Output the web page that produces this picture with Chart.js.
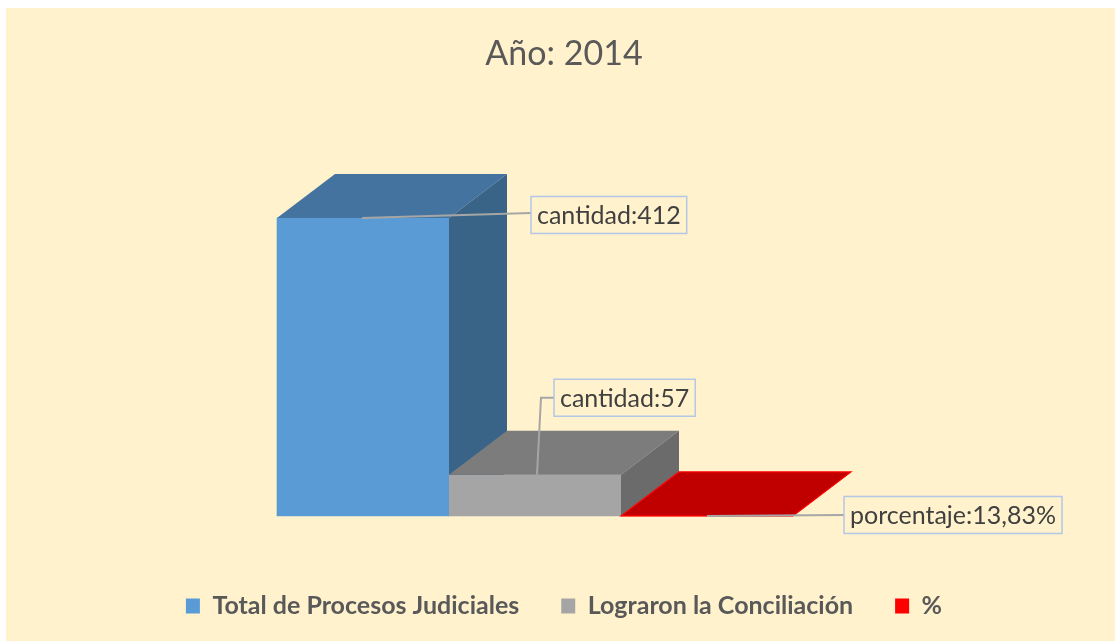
<!DOCTYPE html>
<html>
<head>
<meta charset="utf-8">
<script src="https://cdn.jsdelivr.net/npm/chart.js@4.4.1/dist/chart.umd.min.js"></script>
<style>
  html, body { margin: 0; padding: 0; background: #ffffff; }
  #wrap { width: 1115px; height: 641px; position: relative; }
  canvas { display: block; }
</style>
</head>
<body>
<div id="wrap"><canvas id="c" width="1115" height="641"></canvas></div>
<script>
// ---- data ----
const categories = ['2014'];
const seriesNames = ['Total de Procesos Judiciales', 'Lograron la Conciliación', '%'];
const totalProcesos = [412];
const lograronConciliacion = [57];
const porcentaje = [0.1383];
const labelPrefixes = ['cantidad:', 'cantidad:', 'porcentaje:'];
const titleText = 'Año: 2014';

// ---- styles ----
const seriesColors = ['#5B9BD5', '#A5A5A5', '#FF0000'];
const faceColors = [
  { front: '#5B9BD5', top: '#44739F', side: '#3A6487' },
  { front: '#A5A5A5', top: '#7C7C7C', side: '#6B6B6B' },
  { front: '#FF0000', top: '#C00000', side: '#A00000', edge: '#FF0000' }
];
const depth = { dx: 58, dy: -44 };

function fmtValue(i, v) {
  if (i === 2) return labelPrefixes[i] + (v * 100).toFixed(2).replace('.', ',') + '%';
  return labelPrefixes[i] + v;
}

function poly(ctx, pts, fill, stroke) {
  ctx.beginPath();
  ctx.moveTo(pts[0][0], pts[0][1]);
  for (let k = 1; k < pts.length; k++) ctx.lineTo(pts[k][0], pts[k][1]);
  ctx.closePath();
  ctx.fillStyle = fill;
  ctx.fill();
  if (stroke) { ctx.strokeStyle = stroke; ctx.lineWidth = 1.2; ctx.stroke(); }
}

const bgPlugin = {
  id: 'bg',
  beforeDraw(chart) {
    const ctx = chart.ctx;
    ctx.save();
    ctx.fillStyle = '#ffffff';
    ctx.fillRect(0, 0, chart.width, chart.height);
    ctx.fillStyle = '#FFF2CC';
    ctx.fillRect(6, 8, chart.width - 6, chart.height - 8);
    ctx.restore();
  }
};

function barGeom(chart, i) {
  const bar = chart.getDatasetMeta(i).data[0];
  const p = bar.getProps(['x', 'y', 'base', 'width'], true);
  return {
    l: p.x - p.width / 2, r: p.x + p.width / 2,
    t: Math.min(p.y, p.base), b: Math.max(p.y, p.base)
  };
}

const box3dPlugin = {
  id: 'box3d',
  afterDatasetsDraw(chart) {
    const ctx = chart.ctx;
    ctx.save();
    chart.data.datasets.forEach((ds, i) => {
      const g = barGeom(chart, i);
      const c = faceColors[i];
      const { dx, dy } = depth;
      ctx.fillStyle = c.front;
      ctx.fillRect(g.l, g.t, g.r - g.l, g.b - g.t);
      poly(ctx, [[g.l, g.t], [g.l + dx, g.t + dy], [g.r + dx, g.t + dy], [g.r, g.t]], c.top, c.edge);
      if (g.b - g.t > 1) {
        poly(ctx, [[g.r, g.t], [g.r + dx, g.t + dy], [g.r + dx, g.b + dy], [g.r, g.b]], c.side);
      }
    });
    ctx.restore();
  }
};

const labelPlugin = {
  id: 'labels3d',
  afterDraw(chart) {
    const ctx = chart.ctx;
    ctx.save();
    ctx.font = '25px Lato';
    ctx.textBaseline = 'middle';
    ctx.textAlign = 'left';
    const { dx } = depth;
    const boxH = 37, padX = 6;
    chart.data.datasets.forEach((ds, i) => {
      const g = barGeom(chart, i);
      const txt = fmtValue(i, ds.data[0]);
      const w = ctx.measureText(txt).width + padX * 2;
      let bx, cy, path;
      if (i === 0) {
        bx = g.r + dx + 24; cy = g.t - 3;
        path = [[g.l + 85, g.t], [bx, cy - 2]];
      } else if (i === 1) {
        bx = g.l + 105; cy = g.t - 77;
        path = [[g.l + 88, g.t], [g.l + 92, cy], [bx, cy]];
      } else {
        bx = g.r + 51; cy = g.b - 1;
        path = [[g.l + 86, g.b], [bx, cy]];
      }
      ctx.strokeStyle = '#A6A6A6';
      ctx.lineWidth = 2;
      ctx.beginPath();
      ctx.moveTo(path[0][0], path[0][1]);
      for (let k = 1; k < path.length; k++) ctx.lineTo(path[k][0], path[k][1]);
      ctx.stroke();
      ctx.fillStyle = '#FFF2CC';
      ctx.fillRect(bx, cy - boxH / 2, w, boxH);
      ctx.strokeStyle = '#B4C7E7';
      ctx.lineWidth = 1.5;
      ctx.strokeRect(bx, cy - boxH / 2, w, boxH);
      ctx.fillStyle = '#404040';
      ctx.fillText(txt, bx + padX, cy + 1);
    });
    ctx.restore();
  }
};

const seriesData = [totalProcesos, lograronConciliacion, porcentaje];

new Chart(document.getElementById('c'), {
  type: 'bar',
  data: {
    labels: categories,
    datasets: seriesNames.map((name, i) => ({
      label: name,
      data: seriesData[i],
      backgroundColor: seriesColors[i],
      borderWidth: 0,
      barThickness: 172
    }))
  },
  options: {
    responsive: false,
    animation: false,
    devicePixelRatio: 1,
    layout: { padding: { left: 20, right: 7, top: 8, bottom: 12.5 } },
    scales: {
      x: { display: false },
      y: {
        position: 'right',
        min: -49.1, max: 582.3,
        ticks: { display: false },
        grid: { display: false },
        border: { display: false },
        afterFit(scale) { scale.width = 58; }
      }
    },
    plugins: {
      tooltip: { enabled: false },
      title: {
        display: true,
        text: titleText,
        color: '#595959',
        font: { family: 'Lato', size: 34, weight: 'normal' },
        padding: { top: 26, bottom: 20 }
      },
      legend: {
        position: 'bottom',
        labels: {
          boxWidth: 14, boxHeight: 15, padding: 42,
          color: '#595959',
          font: { family: 'Lato', size: 25, weight: 'bold' }
        }
      }
    }
  },
  plugins: [bgPlugin, box3dPlugin, labelPlugin]
});
</script>
</body>
</html>
